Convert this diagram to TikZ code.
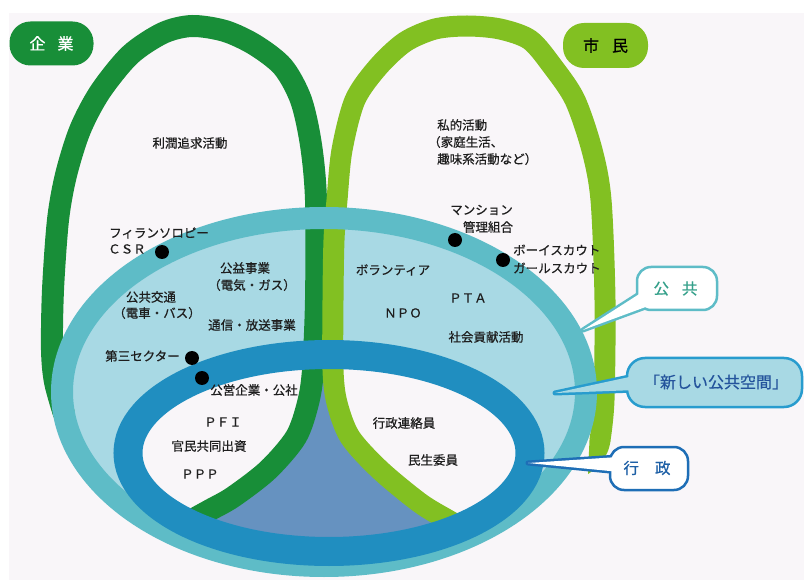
\documentclass[tikz,border=0pt]{standalone}
\usepackage{fontspec}
\newfontfamily\jp[FakeBold=0.6]{Noto Sans CJK JP}
\definecolor{bgc}{RGB}{249,246,249}
\definecolor{dkgreen}{RGB}{24,142,56}
\definecolor{ltgreen}{RGB}{130,192,34}
\definecolor{cyanring}{RGB}{94,188,199}
\definecolor{ltblue}{RGB}{168,217,228}
\definecolor{dkblue}{RGB}{32,142,192}
\definecolor{funnelc}{RGB}{102,146,192}
\definecolor{txt}{RGB}{30,30,30}
\definecolor{tealtxt}{RGB}{52,160,138}
\definecolor{navytxt}{RGB}{36,84,156}
\definecolor{gyoutxt}{RGB}{30,96,166}
\definecolor{newborder}{RGB}{40,156,206}
\definecolor{gyouborder}{RGB}{30,110,182}
\begin{document}
\begin{tikzpicture}[x=1pt,y=-1pt,
  lbl/.style={font=\jp\fontsize{12.5}{17}\selectfont, text=txt, inner sep=0pt},
  dotnode/.style={circle, fill=black, minimum size=14pt, inner sep=0pt},
  greenpath/.style={line width=22pt, line cap=butt, line join=round},
  pill/.style={rounded corners=21pt, minimum width=84pt, minimum height=44pt, inner sep=0pt, font=\jp\fontsize{16}{16}\selectfont},
  callbox/.style={line width=2.5pt, inner sep=0pt, font=\jp\fontsize{15.5}{16}\selectfont},
]
\useasboundingbox (0,0) rectangle (804,580);
\fill[white] (0,0) rectangle (804,580);
\fill[bgc] (9,13) rectangle (804,580);
% fills
\fill[ltblue] (324,392) ellipse [x radius=262, y radius=174];
\fill[bgc] (329,453) ellipse [x radius=201, y radius=98.5];
\fill[funnelc] plot[smooth] coordinates {(316,335)(313,370)(308,403)(296,437)(268,470)(233,497)(210,510)(190,521)} -- (329,556) -- plot[smooth] coordinates {(466,530)(448,520)(420,503)(380,470)(350,437)(337,403)(333,370)(333,335)} -- cycle;
% green loops
\draw[dkgreen, greenpath] plot[smooth] coordinates {(64,414)(55,382)(52,350)(53,290)(58,220)(66,175)(80,130)(100,92)(130,55)(163,33)(192,26)(225,31)(255,45)(283,67)(301,100)(311,145)(316,200)(316,300)(313,370)(308,403)(296,437)(268,470)(233,497)(210,510)(190,521)};
\draw[ltgreen, greenpath, line width=21pt] plot[smooth] coordinates {(466,530)(448,520)(420,503)(380,470)(350,437)(337,403)(333,370)(333,300)(334,240)(337,200)(342,150)(355,100)(378,67)(405,42)(435,29)(467,26)(500,29)(530,40)(553,67)(575,100)(592,150)(601,200)(605,300)(604,400)(600,440)};
\fill[ltgreen] (589.6,438) -- (610.5,441) .. controls (608,458) and (598,468) .. (588,474) -- cycle;
% rings
\draw[cyanring, line width=22pt] (324,392) ellipse [x radius=262, y radius=174];
\draw[dkblue, line width=29pt] (329,453) ellipse [x radius=201, y radius=98.5];
% pills
\node[pill, fill=dkgreen, text=white] (kigyo) at (51.5,43.5) {企\hspace{12pt}業};
\node[pill, fill=ltgreen, text=black, minimum width=85pt, minimum height=45pt] (shimin) at (605.5,45.5) {市\hspace{13pt}民};
% texts
\node[lbl] (rijun) at (190,143) {利潤追求活動};
\node[lbl, anchor=west] (shiteki1) at (437,125) {私的活動};
\node[lbl, anchor=west] (shiteki2) at (428,142) {（家庭生活、};
\node[lbl, anchor=west] (shiteki3) at (437,159) {趣味系活動など）};
\node[lbl, anchor=west] (phil) at (109,233) {フィランソロピー};
\node[lbl, anchor=west] (csr) at (108,249) {ＣＳＲ};
\node[lbl] (koueki1) at (245,268) {公益事業};
\node[lbl] (koueki2) at (252,285) {（電気・ガス）};
\node[lbl] (kotsu1) at (151,297) {公共交通};
\node[lbl] (kotsu2) at (157,313) {（電車・バス）};
\node[lbl] (tsushin) at (252,325) {通信・放送事業};
\node[lbl] (daisan) at (142.5,356) {第三セクター};
\node[lbl] (koei) at (254,390) {公営企業・公社};
\node[lbl] (pfi) at (223,422) {ＰＦＩ};
\node[lbl] (kanmin) at (209,446) {官民共同出資};
\node[lbl] (ppp) at (200,474) {ＰＰＰ};
\node[lbl] (renraku) at (404,423) {行政連絡員};
\node[lbl] (minsei) at (433,460) {民生委員};
\node[lbl] (mansion1) at (481.5,210) {マンション};
\node[lbl] (mansion2) at (488,227) {管理組合};
\node[lbl, anchor=west] (boy) at (513,250) {ボーイスカウト};
\node[lbl, anchor=west] (girl) at (513,268) {ガールスカウト};
\node[lbl] (volunteer) at (393,270) {ボランティア};
\node[lbl] (pta) at (468,298) {ＰＴＡ};
\node[lbl] (npo) at (403,313) {ＮＰＯ};
\node[lbl] (shakai) at (486,337) {社会貢献活動};
% dots
\node[dotnode] (d1) at (162,252) {};
\node[dotnode] (d2) at (192,358) {};
\node[dotnode] (d3) at (202,378) {};
\node[dotnode] (d4) at (455,240) {};
\node[dotnode] (d5) at (503,260) {};
% callout: koukyou
\coordinate (tipK) at (583,330);
\draw[cyanring, line width=5pt, line join=round, fill=white] (644,291) -- (tipK) -- (651,305) -- cycle;
\node[callbox, draw=cyanring, fill=white, rounded corners=14pt, minimum width=80pt, minimum height=43pt] (koukyou) at (677,288.5) {};
\fill[white] (644,291) -- (tipK) -- (651,305) -- cycle;
\node[callbox, text=tealtxt] (koukyouT) at (675.5,288.5) {公\hspace{13pt}共};
% callout: new public space
\coordinate (tipN) at (555,393);
\draw[newborder, line width=5pt, line join=round, fill=ltblue] (634,376) -- (tipN) -- (636,390) -- cycle;
\node[callbox, draw=newborder, fill=ltblue, rounded corners=18pt, minimum width=175pt, minimum height=49pt] (newbox) at (714.5,382.5) {};
\fill[ltblue] (634,376) -- (tipN) -- (636,390) -- cycle;
\node[callbox, text=navytxt, font=\jp\fontsize{16}{16}\selectfont] (newT) at (716,382) {「新しい公共空間」};
% callout: gyousei
\coordinate (tipG) at (528,463);
\draw[gyouborder, line width=5pt, line join=round, fill=white] (618,457) -- (tipG) -- (620,472) -- cycle;
\node[callbox, draw=gyouborder, fill=white, rounded corners=14pt, minimum width=78pt, minimum height=43pt] (gyousei) at (649,468.5) {};
\fill[white] (618,457) -- (tipG) -- (620,472) -- cycle;
\node[callbox, text=gyoutxt] (gyouseiT) at (647,468) {行\hspace{16pt}政};
\end{tikzpicture}
\end{document}
